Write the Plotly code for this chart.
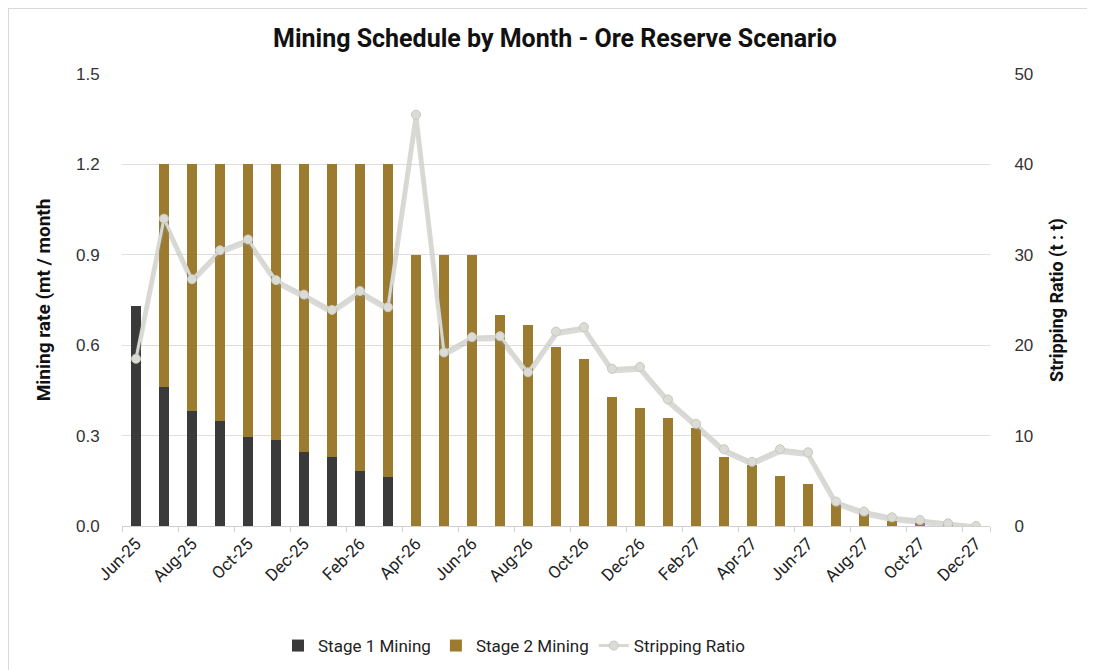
import plotly.graph_objects as go

months = ["Jun-25","Jul-25","Aug-25","Sep-25","Oct-25","Nov-25","Dec-25","Jan-26","Feb-26","Mar-26",
          "Apr-26","May-26","Jun-26","Jul-26","Aug-26","Sep-26","Oct-26","Nov-26","Dec-26","Jan-27",
          "Feb-27","Mar-27","Apr-27","May-27","Jun-27","Jul-27","Aug-27","Sep-27","Oct-27","Nov-27","Dec-27"]

stage1 = [0.73, 0.46, 0.38, 0.35, 0.295, 0.285, 0.245, 0.23, 0.183, 0.162,
          0, 0, 0, 0, 0, 0, 0, 0, 0, 0,
          0, 0, 0, 0, 0, 0, 0, 0, 0, 0, 0]

stage2 = [0.0, 0.74, 0.82, 0.85, 0.905, 0.915, 0.955, 0.97, 1.017, 1.038,
          0.9, 0.9, 0.9, 0.70, 0.667, 0.595, 0.555, 0.427, 0.393, 0.36,
          0.324, 0.23, 0.202, 0.166, 0.139, 0.075, 0.042, 0.018, 0.01, 0.005, 0.0]

strip_ratio = [18.5, 34.0, 27.3, 30.5, 31.7, 27.2, 25.6, 23.9, 26.0, 24.2,
               45.5, 19.2, 20.9, 21.0, 17.0, 21.5, 22.0, 17.4, 17.6, 14.0,
               11.3, 8.5, 7.1, 8.5, 8.15, 2.7, 1.6, 0.96, 0.66, 0.3, 0.0]

left_ticks = [0.0, 0.3, 0.6, 0.9, 1.2, 1.5]
right_ticks = [0, 10, 20, 30, 40, 50]

NARROW = "Liberation Sans Narrow, Arial Narrow, Roboto, sans-serif"
TICKF = "Liberation Sans, Arial, sans-serif"

W, H = 1095, 670
L, R, T, B = 114, 982, 66, 518   # plot area in figure pixels
PW, PH = R - L, B - T

fig = go.Figure()
fig.add_trace(go.Bar(x=months, y=stage1, name="Stage 1 Mining",
                     marker=dict(color="#3a3a3a", line=dict(width=0))))
fig.add_trace(go.Bar(x=months, y=stage2, name="Stage 2 Mining",
                     marker=dict(color="#9c7a2e", line=dict(width=0))))
fig.add_trace(go.Scatter(x=months, y=[v - 0.25 for v in strip_ratio], yaxis="y2", mode="lines",
                         line=dict(color="rgba(150,150,145,0.35)", width=5), hoverinfo="skip",
                         showlegend=False))
fig.add_trace(go.Scatter(x=months, y=strip_ratio, name="Stripping Ratio", yaxis="y2",
                         mode="lines+markers",
                         line=dict(color="#d8d8d3", width=3),
                         marker=dict(symbol="circle", size=9, color="#dcdcd7",
                                     line=dict(color="#c8c8c2", width=1))))

fig.update_layout(
    width=W, height=H,
    paper_bgcolor="white", plot_bgcolor="white",
    barmode="stack", bargap=0.64,
    margin=dict(l=L, r=W - R, t=T, b=H - B),
    title=dict(text="<b>Mining Schedule by Month - Ore Reserve Scenario</b>",
               x=547 / W, xanchor="center", y=1 - 30 / H, yanchor="middle",
               font=dict(family=NARROW, size=25, color="#111111")),
    xaxis=dict(type="category", categoryorder="array", categoryarray=months,
               tickmode="array", tickvals=months[::2], ticktext=months[::2],
               tickangle=-45, tickson="boundaries", ticks="outside", ticklen=5,
               tickcolor="#d0d0d0", showline=True, linecolor="#d0d0d0", linewidth=1,
               showgrid=False, range=[-0.5, len(months) - 0.5],
               tickfont=dict(family=NARROW, size=17, color="#222222")),
    yaxis=dict(range=[0, 1.5], tickmode="array", tickvals=left_ticks,
               ticktext=[f"{v:.1f}" for v in left_ticks],
               showgrid=True, gridcolor="#dedede", gridwidth=1, zeroline=False,
               ticks="outside", ticklen=18, tickcolor="rgba(0,0,0,0)",
               tickfont=dict(family=TICKF, size=17, color="#333333"),
               title=dict(text="<b>Mining rate (mt / month</b>", standoff=20,
                          font=dict(family=NARROW, size=19, color="#111111"))),
    yaxis2=dict(range=[0, 50], overlaying="y", side="right", tickmode="array",
                tickvals=right_ticks, showgrid=False, zeroline=False,
                ticks="outside", ticklen=20, tickcolor="rgba(0,0,0,0)",
                tickfont=dict(family=TICKF, size=17, color="#333333"),
                title=dict(text="<b>Stripping Ratio (t : t)</b>", standoff=18,
                           font=dict(family=NARROW, size=18, color="#111111"))),
    legend=dict(orientation="h", x=(514 - 8 - L) / PW, xanchor="center",
                y=(B - 638) / PH, yanchor="middle",
                font=dict(family=NARROW, size=17, color="#222222"),
                traceorder="normal"),
    shapes=[
        dict(type="line", xref="paper", yref="paper", x0=(0 - L) / PW, x1=(W - L) / PW,
             y0=(B - 0.5) / PH, y1=(B - 0.5) / PH, line=dict(color="#d9d9d9", width=1)),
        dict(type="line", xref="paper", yref="paper", x0=(0.5 - L) / PW, x1=(0.5 - L) / PW,
             y0=(B - 0) / PH, y1=(B - H) / PH, line=dict(color="#d9d9d9", width=1)),
    ],
)

fig.write_html("out.html")
